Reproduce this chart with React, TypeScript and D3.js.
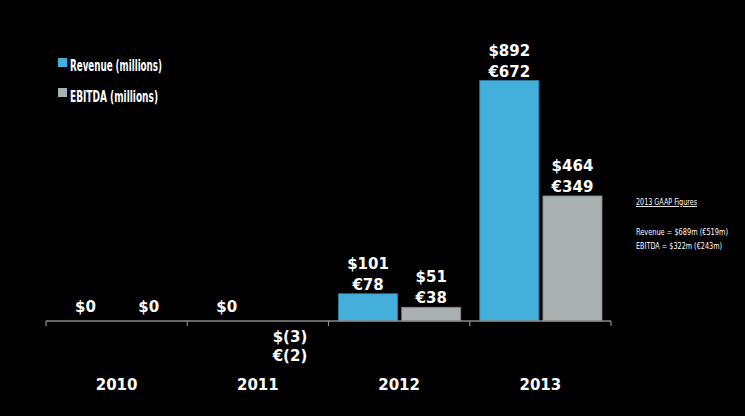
import React from "react";
import * as d3 from "d3";

const years = ["2010", "2011", "2012", "2013"];
const revenueUSD = [0, 0, 101, 892];
const revenueEUR = [null, null, 78, 672];
const ebitdaUSD = [0, -3, 51, 464];
const ebitdaEUR = [null, -2, 38, 349];
const seriesNames = ["Revenue (millions)", "EBITDA (millions)"];
const seriesKeys = ["rev", "ebitda"];
const colors = ["#45afdc", "#aab0af"];
const strokes = ["#2f86ad", "#7d8382"];
const noteTitle = "2013 GAAP Figures";
const noteLines = ["Revenue = $689m (€519m)", "EBITDA = $322m (€243m)"];

const W = 745;
const H = 416;
const boldFont = "'DejaVu Sans', sans-serif";
const narrowFont = "'DejaVu Sans Condensed', 'Liberation Sans Narrow', 'Roboto', sans-serif";

function fmt(v: number, sym: string) {
  return v < 0 ? `${sym}(${Math.abs(v)})` : `${sym}${v}`;
}

export default function App() {
  const x = d3.scaleBand<string>().domain(years).range([46, 611]).padding(0);
  const inner = d3
    .scaleBand<string>()
    .domain(seriesKeys)
    .range([10, x.bandwidth() - 9])
    .paddingInner(0.065);
  const y = d3.scaleLinear().domain([0, 1000]).range([321, 321 - 269.5]);
  const y0 = y(0);

  const series = [
    { key: "rev", usd: revenueUSD, eur: revenueEUR, i: 0 },
    { key: "ebitda", usd: ebitdaUSD, eur: ebitdaEUR, i: 1 },
  ];

  const ticks = [...years.map((yr) => x(yr) as number), 611];

  return (
    <svg
      width={W}
      height={H}
      style={{ position: "absolute", left: 0, top: 0, background: "#000", display: "block" }}
    >
      <rect x={0} y={0} width={W} height={H} fill="#000" />
      {series.map((s) =>
        years.map((yr, j) => {
          const v = s.usd[j];
          const bx = (x(yr) as number) + (inner(s.key) as number);
          const bw = inner.bandwidth();
          const top = Math.min(y(v), y0);
          const h = Math.abs(y(v) - y0);
          const cx = bx + bw / 2;
          const eur = s.eur[j];
          return (
            <g key={s.key + yr}>
              {v > 0 && (
                <rect
                  x={bx}
                  y={top}
                  width={bw}
                  height={h}
                  fill={colors[s.i]}
                  stroke={strokes[s.i]}
                  strokeWidth={0.8}
                />
              )}
              {v >= 0 ? (
                <text
                  x={cx}
                  textAnchor="middle"
                  fill="#fff"
                  fontFamily={boldFont}
                  fontWeight="bold"
                  fontSize={15}
                >
                  {eur === null ? (
                    <tspan x={cx} y={y(v) - 9}>
                      {fmt(v, "$")}
                    </tspan>
                  ) : (
                    <>
                      <tspan x={cx} y={y(v) - 25}>
                        {fmt(v, "$")}
                      </tspan>
                      <tspan x={cx} y={y(v) - 4}>
                        {fmt(eur, "€")}
                      </tspan>
                    </>
                  )}
                </text>
              ) : (
                <text
                  x={cx}
                  textAnchor="middle"
                  fill="#fff"
                  fontFamily={boldFont}
                  fontWeight="bold"
                  fontSize={15}
                >
                  <tspan x={cx} y={y(v) + 20}>
                    {fmt(v, "$")}
                  </tspan>
                  {eur !== null && (
                    <tspan x={cx} y={y(v) + 39}>
                      {fmt(eur, "€")}
                    </tspan>
                  )}
                </text>
              )}
            </g>
          );
        })
      )}
      <line x1={46} x2={611} y1={y0} y2={y0} stroke="#8a8a8a" strokeWidth={1.5} />
      {ticks.map((t, i) => (
        <line key={i} x1={t} x2={t} y1={y0} y2={y0 + 5} stroke="#8a8a8a" strokeWidth={1.2} />
      ))}
      {years.map((yr) => (
        <text
          key={yr}
          x={(x(yr) as number) + x.bandwidth() / 2}
          y={390}
          textAnchor="middle"
          fill="#fff"
          fontFamily={boldFont}
          fontWeight="bold"
          fontSize={15}
        >
          {yr}
        </text>
      ))}
      {seriesNames.map((n, i) => (
        <g key={n}>
          <rect x={58} y={58 + i * 30} width={9} height={9} fill={colors[i]} />
          <text
            x={70}
            y={71 + i * 31}
            fill="#fff"
            fontFamily={narrowFont}
            fontWeight="bold"
            fontSize={16.5}
            textLength={i === 0 ? 92 : 88}
            lengthAdjust="spacingAndGlyphs"
          >
            {n}
          </text>
        </g>
      ))}
      <text
        x={636}
        y={205}
        fill="#fff"
        fontFamily={narrowFont}
        fontSize={9}
        textDecoration="underline"
        textLength={61}
        lengthAdjust="spacingAndGlyphs"
      >
        {noteTitle}
      </text>
      {noteLines.map((l, i) => (
        <text
          key={l}
          x={636}
          y={235 + i * 14}
          fill="#fff"
          fontFamily={narrowFont}
          fontSize={8.5}
          textLength={i === 0 ? 92 : 86}
          lengthAdjust="spacingAndGlyphs"
        >
          {l}
        </text>
      ))}
    </svg>
  );
}
